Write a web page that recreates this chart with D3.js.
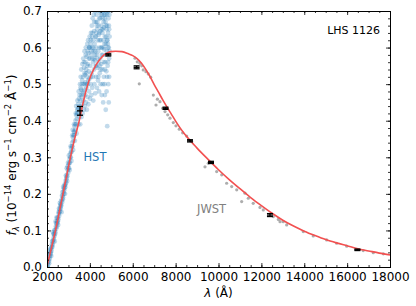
<!DOCTYPE html>
<html><head><meta charset="utf-8">
<script src="https://cdn.jsdelivr.net/npm/d3@7"></script>
<style>
body{margin:0;background:#fff;}
svg{display:block;font-family:"DejaVu Sans",sans-serif;}
.axis path{stroke:#000;stroke-width:1;}
.axis line{stroke:#000;stroke-width:0.8;}
.axis text{font-family:"DejaVu Sans",sans-serif;font-size:12px;fill:#000;}
</style></head><body>
<svg id="c" width="416" height="306"></svg>
<script>
// ---- data ----
const xTicks = [2000,4000,6000,8000,10000,12000,14000,16000,18000];
const yTicks = [0.0,0.1,0.2,0.3,0.4,0.5,0.6,0.7];

// model spectrum (red)
const modelWave = [2000,2100,2200,2300,2400,2500,2600,2700,2800,2900,3000,3100,3200,3300,3400,3500,3650,3800,3960,4200,4350,4500,4660,4800,4970,5200,5500,5800,6000,6200,6400,6600,6800,7000,7200,7400,7600,7800,8000,8200,8400,8600,8800,9000,9500,10000,10500,11000,11500,12000,12500,13000,13500,14000,14500,15000,15500,16000,16500,17000,17500,18000];
const modelFlux = [0.002,0.026,0.051,0.076,0.101,0.129,0.158,0.187,0.216,0.245,0.274,0.302,0.329,0.353,0.376,0.399,0.440,0.477,0.510,0.543,0.558,0.570,0.580,0.585,0.589,0.590,0.589,0.583,0.578,0.570,0.558,0.541,0.521,0.499,0.478,0.457,0.437,0.418,0.399,0.381,0.365,0.351,0.338,0.325,0.295,0.266,0.239,0.214,0.190,0.168,0.147,0.128,0.112,0.098,0.086,0.075,0.066,0.058,0.050,0.044,0.038,0.033];

// HST spectrum samples [wavelength, flux]
const hstPoints = [
[2010,0.0],[2030,0.012],[2050,0.006],[2070,0.02],[2090,0.015],[2110,0.03],[2130,0.022],[2150,0.04],[2170,0.035],[2190,0.05],[2210,0.045],[2230,0.062],[2250,0.055],[2270,0.072],[2290,0.068],[2310,0.08],[2330,0.09],[2350,0.085],[2370,0.1],[2390,0.095],[2410,0.11],[2430,0.105],[2450,0.118],[2470,0.125],[2490,0.12],[2510,0.135],[2530,0.13],[2550,0.145],[2570,0.14],[2590,0.158],[2610,0.152],[2630,0.165],[2650,0.172],[2670,0.168],[2690,0.185],[2710,0.178],[2730,0.195],[2750,0.19],[2770,0.205],[2790,0.2],[2810,0.215],[2830,0.222],[2850,0.218],[2870,0.235],[2890,0.23],[2910,0.245],[2930,0.252],[2950,0.248],[2970,0.265],[2990,0.258],
[2060,-0.005],[2120,0.045],[2200,0.03],[2280,0.095],[2360,0.07],[2440,0.135],[2520,0.115],[2600,0.175],[2680,0.15],[2760,0.22],[2840,0.2],[2920,0.27],[2980,0.285],[2080,0.035],[2400,0.125],[2560,0.16],[2720,0.205],[2880,0.25],[2940,0.235],
[2020,0.01],[2040,-0.002],[2100,0.01],[2140,0.03],[2160,0.05],[2180,0.04],[2220,0.055],[2240,0.07],[2260,0.06],[2300,0.09],[2320,0.075],[2340,0.1],[2380,0.09],[2420,0.12],[2460,0.11],[2480,0.135],[2500,0.125],[2540,0.15],[2580,0.15],[2620,0.17],[2640,0.16],[2660,0.18],[2700,0.195],[2740,0.185],[2780,0.215],[2800,0.21],[2820,0.225],[2860,0.225],[2900,0.24],[2960,0.275],[3000,0.27],[3040,0.285],[3080,0.3],[3120,0.315],[3160,0.33],[3240,0.36],[3280,0.37],[3320,0.39],[3400,0.42],[3440,0.43],
[3010,0.28],[3030,0.27],[3050,0.295],[3070,0.285],[3090,0.31],[3110,0.3],[3130,0.325],[3150,0.315],[3170,0.34],[3190,0.33],[3210,0.355],[3230,0.345],[3250,0.37],[3270,0.36],[3290,0.385],[3310,0.375],[3330,0.4],[3350,0.39],[3370,0.415],[3390,0.405],[3410,0.43],[3430,0.42],[3450,0.445],[3470,0.435],[3490,0.46],
[3020,0.305],[3060,0.265],[3100,0.33],[3140,0.29],[3180,0.36],[3220,0.32],[3260,0.39],[3300,0.345],[3340,0.42],[3380,0.365],[3420,0.455],[3460,0.39],[3480,0.48],[3200,0.375],[3360,0.44],
[3510,0.41],[3520,0.47],[3530,0.44],[3540,0.5],[3550,0.39],[3560,0.455],[3570,0.52],[3580,0.43],[3590,0.485],[3600,0.54],[3610,0.41],[3620,0.465],[3630,0.5],[3640,0.445],[3650,0.555],[3660,0.42],[3670,0.475],[3680,0.52],[3690,0.57],[3700,0.455],[3710,0.5],[3720,0.43],[3730,0.545],[3740,0.485],[3750,0.59],[3760,0.44],[3770,0.525],[3780,0.47],[3790,0.56],[3800,0.505],[3810,0.6],[3820,0.45],[3830,0.54],[3840,0.49],[3850,0.575],[3860,0.43],[3870,0.52],[3880,0.61],[3890,0.465],[3900,0.555],[3910,0.5],[3920,0.62],[3930,0.445],[3940,0.585],[3950,0.535],[3960,0.48],[3970,0.6],[3980,0.515],[3990,0.63],
[4010,0.46],[4020,0.55],[4030,0.61],[4040,0.5],[4050,0.64],[4060,0.58],[4070,0.47],[4080,0.53],[4090,0.66],[4100,0.6],[4110,0.49],[4120,0.57],[4130,0.68],[4140,0.52],[4150,0.62],[4160,0.455],[4170,0.59],[4180,0.69],[4190,0.54],[4200,0.645],[4210,0.5],[4220,0.61],[4230,0.565],[4240,0.7],[4250,0.475],[4260,0.63],[4270,0.55],[4280,0.67],[4290,0.52],[4300,0.6],[4310,0.69],[4320,0.58],[4330,0.49],[4340,0.65],[4350,0.545],[4360,0.62],[4370,0.705],[4380,0.51],[4390,0.59],[4400,0.66],[4410,0.56],[4420,0.635],[4430,0.48],[4440,0.68],[4450,0.6],[4460,0.53],[4470,0.7],[4480,0.57],[4490,0.645],
[4500,0.5],[4510,0.62],[4520,0.69],[4530,0.555],[4540,0.66],[4550,0.47],[4560,0.6],[4570,0.71],[4580,0.54],[4590,0.64],[4600,0.58],[4610,0.68],[4620,0.45],[4630,0.62],[4640,0.7],[4650,0.52],[4660,0.655],[4670,0.595],[4680,0.69],[4690,0.5],[4700,0.63],[4710,0.71],[4720,0.56],[4730,0.67],[4740,0.43],[4750,0.61],[4760,0.7],[4770,0.535],[4780,0.65],[4790,0.59],[4800,0.69],[4810,0.385],[4820,0.62],[4830,0.55],[4840,0.7],[4850,0.64],[4860,0.5],[4870,0.68],[4880,0.6],[4890,0.66],[4900,0.57],[4910,0.69],[4920,0.63],
[4550,0.65],[4650,0.6],[4750,0.66],[4850,0.56],[4450,0.62],[4350,0.67],[4250,0.59],[4150,0.56],[4050,0.52],[3950,0.57],[3850,0.5],[3750,0.53],
[3560,0.49],[3600,0.47],[3640,0.51],[3680,0.48],[3720,0.56],[3760,0.5],[3800,0.58],[3840,0.53],[3880,0.55],[3920,0.51],[3960,0.6],[4000,0.57],[4040,0.62],[4080,0.59],[4120,0.64],[4160,0.6],[4200,0.67],[4240,0.58],[4280,0.63],[4320,0.66],[4360,0.57],[4400,0.7],[4440,0.64],[4480,0.68],[4520,0.6],[4560,0.69],[4600,0.65],[4640,0.67],[4680,0.61],[4720,0.69],[4760,0.63],[4800,0.66],[4840,0.61],[4880,0.7],[4920,0.59],[4600,0.7],[4700,0.68],[4800,0.62],[4900,0.65],[4300,0.64],[4200,0.57],[4100,0.63],[4000,0.6],[3900,0.59],[4450,0.55],[4550,0.58],[4650,0.56],[4750,0.58],[4850,0.6],[4700,0.54],[4400,0.52],[4300,0.55],[4500,0.54],[4600,0.5],[4800,0.52],[4900,0.52],[4700,0.47],[4880,0.45],[4780,0.48]
];

// JWST spectrum samples
const jwstWave = [6105,6212,6338,6417,6490,6617,6725,6837,6305,6960,7150,7270,7085,7395,7505,7630,7737,7892,8017,8171,8327,8515,8748,9370,9525,9915,10150,10380,10615,10850,11080,11235,11390,11620,11935,12090,12555,12790,13020,13180,13955,14420,15045,15510,15980,16750,17220,17690,12870];
const jwstFlux = [0.571,0.561,0.557,0.550,0.539,0.534,0.528,0.519,0.501,0.470,0.459,0.452,0.443,0.434,0.425,0.416,0.407,0.395,0.386,0.377,0.367,0.358,0.343,0.274,0.284,0.261,0.252,0.229,0.220,0.211,0.179,0.202,0.188,0.174,0.163,0.156,0.138,0.130,0.124,0.115,0.097,0.085,0.074,0.065,0.057,0.045,0.039,0.036,0.124];

// photometry with errors
const photWave = [3540,4860,6180,7530,8670,9650,12400,16480];
const photFlux = [0.427,0.580,0.546,0.434,0.345,0.286,0.142,0.047];
const photErr  = [0.012,0.003,0.004,0.003,0.003,0.003,0.004,0.002];

// ---- layout ----
const svg = d3.select("#c");
const L=47, R=390, T=11, B=267;
const x = d3.scaleLinear().domain([2000,18000]).range([L,R]);
const y = d3.scaleLinear().domain([0,0.7]).range([B,T]);

svg.append("defs").append("clipPath").attr("id","clip")
  .append("rect").attr("x",L).attr("y",T).attr("width",R-L).attr("height",B-T);
const plot = svg.append("g").attr("clip-path","url(#clip)");

// HST cloud
plot.append("g").selectAll("circle").data(hstPoints).join("circle")
  .attr("cx",d=>x(d[0])).attr("cy",d=>y(d[1])).attr("r",2.4)
  .attr("fill","#1f77b4").attr("fill-opacity",0.27);

// JWST points
plot.append("g").selectAll("circle").data(jwstWave).join("circle")
  .attr("cx",(d)=>x(d)).attr("cy",(d,i)=>y(jwstFlux[i])).attr("r",1.6)
  .attr("fill","#8a8a8a").attr("fill-opacity",0.7);

// model line
plot.append("path").datum(modelWave.map((w,i)=>[w,modelFlux[i]]))
  .attr("d",d3.line().x(d=>x(d[0])).y(d=>y(d[1])).curve(d3.curveMonotoneX))
  .attr("fill","none").attr("stroke","#f25050").attr("stroke-width",1.6);

// error bars
const eb = plot.append("g").attr("stroke","#000").attr("stroke-width",1.3);
photWave.forEach((w,i)=>{
  const cx=x(w), y1=y(photFlux[i]-photErr[i]), y2=y(photFlux[i]+photErr[i]);
  eb.append("line").attr("x1",cx).attr("x2",cx).attr("y1",y1).attr("y2",y2);
  eb.append("line").attr("x1",cx-3).attr("x2",cx+3).attr("y1",y1).attr("y2",y1);
  eb.append("line").attr("x1",cx-3).attr("x2",cx+3).attr("y1",y2).attr("y2",y2);
  eb.append("line").attr("x1",cx-3).attr("x2",cx+3).attr("y1",y(photFlux[i])).attr("y2",y(photFlux[i]));
});

// ---- axes ----
const xMinor = d3.range(2000,18001,500);
const yMinor = d3.range(0,0.7001,0.02);
function addAxis(gen, tr){ return svg.append("g").attr("class","axis").attr("transform",tr).call(gen); }
addAxis(d3.axisBottom(x).tickValues(xTicks).tickSize(-4).tickPadding(5).tickFormat(d3.format("d")), `translate(0,${B})`);
addAxis(d3.axisBottom(x).tickValues(xMinor).tickSize(-2).tickFormat(""), `translate(0,${B})`);
addAxis(d3.axisTop(x).tickValues(xTicks).tickSize(-4).tickFormat(""), `translate(0,${T})`);
addAxis(d3.axisTop(x).tickValues(xMinor).tickSize(-2).tickFormat(""), `translate(0,${T})`);
addAxis(d3.axisLeft(y).tickValues(yTicks).tickSize(-4).tickPadding(5).tickFormat(d3.format(".1f")), `translate(${L},0)`);
addAxis(d3.axisLeft(y).tickValues(yMinor).tickSize(-2).tickFormat(""), `translate(${L},0)`);
addAxis(d3.axisRight(y).tickValues(yTicks).tickSize(-4).tickFormat(""), `translate(${R},0)`);
addAxis(d3.axisRight(y).tickValues(yMinor).tickSize(-2).tickFormat(""), `translate(${R},0)`);
svg.selectAll(".axis .domain").attr("stroke","#000").attr("stroke-width",1);

// ---- labels ----
svg.append("text").attr("x",380).attr("y",34).attr("text-anchor","end")
  .attr("font-size",11).attr("fill","#000").text("LHS 1126");
svg.append("text").attr("x",x(3700)).attr("y",y(0.3)+4).attr("text-anchor","start")
  .attr("font-size",11.5).attr("fill","#1f77b4").text("HST");
svg.append("text").attr("x",x(9000)).attr("y",y(0.158)+4).attr("text-anchor","start")
  .attr("font-size",11.5).attr("fill","#808080").text("JWST");

// x label
const xl = svg.append("text").attr("x",(L+R)/2).attr("y",297).attr("text-anchor","middle").attr("font-size",12);
xl.append("tspan").attr("font-style","italic").text("λ");
xl.append("tspan").text(" (Å)");

// y label
const yl = svg.append("text").attr("transform",`translate(16,${(T+B)/2+16}) rotate(-90)`)
  .attr("text-anchor","middle").attr("font-size",12);
yl.append("tspan").attr("font-style","italic").text("f");
yl.append("tspan").attr("font-style","italic").attr("font-size",8.5).attr("dy",3).text("λ");
yl.append("tspan").attr("dy",-3).text(" (10");
yl.append("tspan").attr("font-size",8.5).attr("dy",-5).text("−14");
yl.append("tspan").attr("dy",5).text(" erg s");
yl.append("tspan").attr("font-size",8.5).attr("dy",-5).text("−1");
yl.append("tspan").attr("dy",5).text(" cm");
yl.append("tspan").attr("font-size",8.5).attr("dy",-5).text("−2");
yl.append("tspan").attr("dy",5).text(" Å");
yl.append("tspan").attr("font-size",8.5).attr("dy",-5).text("−1");
yl.append("tspan").attr("dy",5).text(")");
</script>
</body></html>
